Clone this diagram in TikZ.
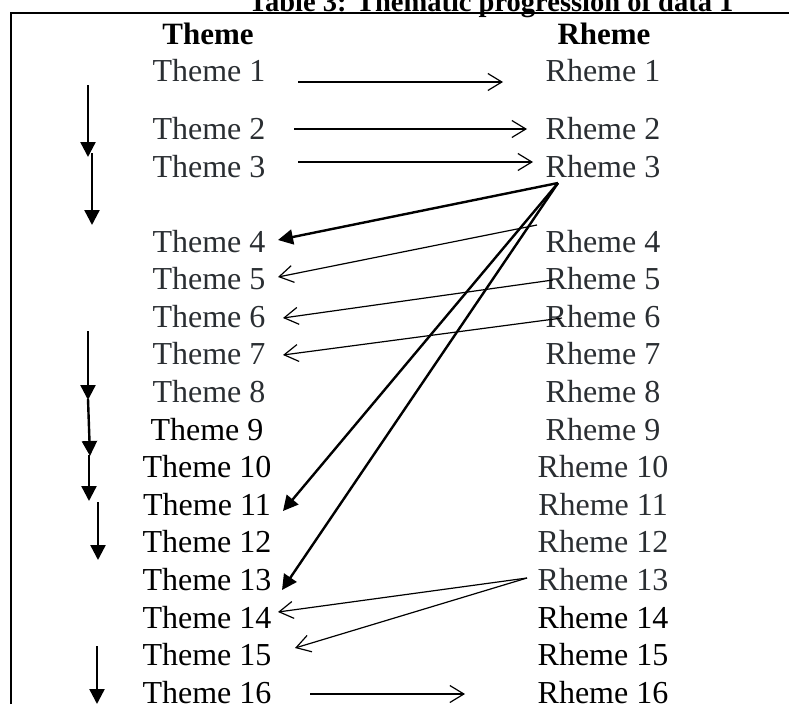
\documentclass[tikz,border=0pt]{standalone}
\usepackage{fontspec}
\setmainfont{Liberation Serif}
\usetikzlibrary{arrows.meta}
\definecolor{txtgray}{RGB}{42,46,50}
\begin{document}
\begin{tikzpicture}[x=1pt,y=-1pt,
  lbl/.style={anchor=base,inner sep=0pt,font=\fontsize{32}{38}\selectfont},
  gry/.style={lbl,text=txtgray},
  blk/.style={lbl,text=black},
  hdr/.style={lbl,font=\fontsize{31}{38}\selectfont\bfseries},
  ttl/.style={lbl,font=\fontsize{28.5}{34}\selectfont\bfseries},
  thin/.style={line width=1.2pt,-{Straight Barb[length=14pt,width=17pt,line width=1.2pt]}},
  thick/.style={line width=2.4pt,-{Triangle[length=15pt,width=15pt]}},
  frame/.style={line width=2.2pt}]
\useasboundingbox (0,0) rectangle (789,704);
\clip (0,0) rectangle (789,704);
% title (cut off at top)
\node[ttl] (title) at (491,11.5) {Table 3: Thematic progression of data 1};
% frame
\coordinate (fa) at (11,704);
\coordinate (fb) at (11,13);
\coordinate (fc) at (789,13);
\draw[frame] (fa) -- (fb) -- (fc);
% headers
\node[hdr] (th) at (208,44) {Theme};
\node[hdr] (rh) at (604,44) {Rheme};
% themes
\node[gry] (t1) at (209,81) {Theme 1};
\node[gry] (t2) at (209,139) {Theme 2};
\node[gry] (t3) at (209,177) {Theme 3};
\node[gry] (t4) at (209,252) {Theme 4};
\node[gry] (t5) at (209,289.6) {Theme 5};
\node[gry] (t6) at (209,327.2) {Theme 6};
\node[gry] (t7) at (209,364.8) {Theme 7};
\node[gry] (t8) at (209,402.4) {Theme 8};
\node[blk] (t9) at (207,440) {Theme 9};
\node[blk] (t10) at (207,477.6) {Theme 10};
\node[blk] (t11) at (207,515.2) {Theme 11};
\node[blk] (t12) at (207,552.8) {Theme 12};
\node[blk] (t13) at (207,590.4) {Theme 13};
\node[blk] (t14) at (207,628) {Theme 14};
\node[blk] (t15) at (207,665.6) {Theme 15};
\node[blk] (t16) at (207,703.2) {Theme 16};
% rhemes
\node[gry] (r1) at (603,81) {Rheme 1};
\node[gry] (r2) at (603,139) {Rheme 2};
\node[gry] (r3) at (603,177) {Rheme 3};
\node[gry] (r4) at (603,252) {Rheme 4};
\node[gry] (r5) at (603,289.6) {Rheme 5};
\node[gry] (r6) at (603,327.2) {Rheme 6};
\node[gry] (r7) at (603,364.8) {Rheme 7};
\node[gry] (r8) at (603,402.4) {Rheme 8};
\node[gry] (r9) at (603,440) {Rheme 9};
\node[gry] (r10) at (603,477.6) {Rheme 10};
\node[gry] (r11) at (603,515.2) {Rheme 11};
\node[gry] (r12) at (603,552.8) {Rheme 12};
\node[gry] (r13) at (603,590.4) {Rheme 13};
\node[blk] (r14) at (603,628) {Rheme 14};
\node[blk] (r15) at (603,665.6) {Rheme 15};
\node[blk] (r16) at (603,703.2) {Rheme 16};
% connector end points
\coordinate (a1s) at (298,82);  \coordinate (a1e) at (503,82);
\coordinate (a2s) at (294,129); \coordinate (a2e) at (527,129);
\coordinate (a3s) at (298,162); \coordinate (a3e) at (533,162);
\coordinate (a16s) at (310,694); \coordinate (a16e) at (465,694);
\coordinate (r3o) at (558,183);
\coordinate (e4) at (278,240);
\coordinate (e11) at (283,511);
\coordinate (e13) at (282,590);
\coordinate (r4o) at (537,225); \coordinate (e5) at (278,277);
\coordinate (r5o) at (553,280); \coordinate (e6) at (283,318);
\coordinate (r6o) at (562,318); \coordinate (e7) at (283,355);
\coordinate (r13o) at (527,578); \coordinate (e14) at (278,612); \coordinate (e15) at (295,648);
% left vertical arrows
\coordinate (v1s) at (88,85);  \coordinate (v1e) at (88,157);
\coordinate (v2s) at (92,153); \coordinate (v2e) at (92,225);
\coordinate (v3s) at (88,331); \coordinate (v3e) at (88,400);
\coordinate (v4s) at (88,399); \coordinate (v4e) at (90,456);
\coordinate (v5s) at (89,455); \coordinate (v5e) at (89,501);
\coordinate (v6s) at (98,502); \coordinate (v6e) at (98,560);
\coordinate (v7s) at (97,646); \coordinate (v7e) at (97,704);
% thin arrows
\draw[thin] (a1s) -- (a1e);
\draw[thin] (a2s) -- (a2e);
\draw[thin] (a3s) -- (a3e);
\draw[thin] (a16s) -- (a16e);
\draw[thin] (r4o) -- (e5);
\draw[thin] (r5o) -- (e6);
\draw[thin] (r6o) -- (e7);
\draw[thin] (r13o) -- (e14);
\draw[thin] (r13o) -- (e15);
% thick arrows
\draw[thick] (r3o) -- (e4);
\draw[thick] (r3o) -- (e11);
\draw[thick] (r3o) -- (e13);
\draw[thick] (v1s) -- (v1e);
\draw[thick] (v2s) -- (v2e);
\draw[thick] (v3s) -- (v3e);
\draw[thick] (v4s) -- (v4e);
\draw[thick] (v5s) -- (v5e);
\draw[thick] (v6s) -- (v6e);
\draw[thick] (v7s) -- (v7e);
\end{tikzpicture}
\end{document}
